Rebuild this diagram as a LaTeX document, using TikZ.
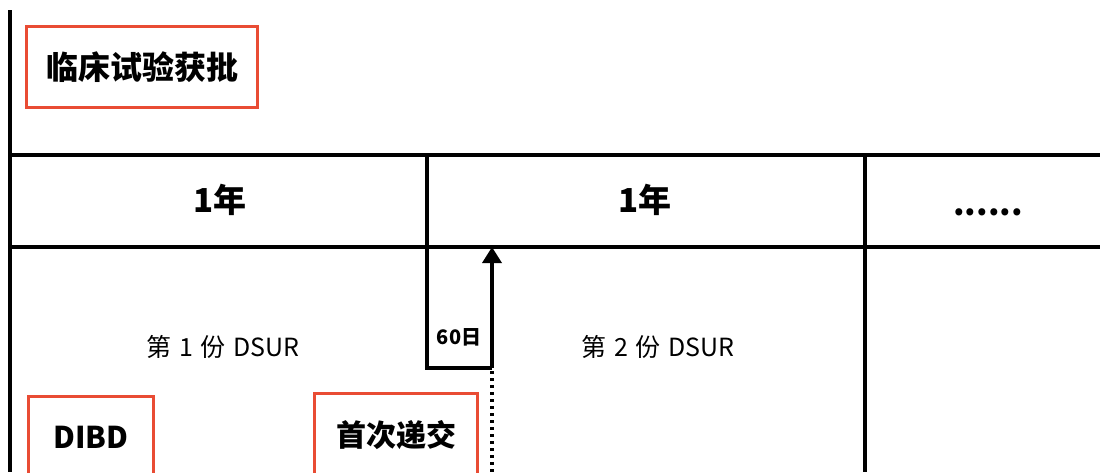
\documentclass[tikz,border=0pt]{standalone}
\usepackage{fontspec}
\setmainfont{Noto Sans CJK SC}
\usetikzlibrary{arrows.meta}
\definecolor{boxred}{RGB}{233,76,52}

\begin{document}
\begin{tikzpicture}[x=1pt,y=-1pt,line width=3.5pt,
    redbox/.style={draw=boxred, line width=3pt, inner sep=0pt, font=\fontsize{30}{36}\selectfont\bfseries},
    headtxt/.style={font=\fontsize{33}{38}\selectfont\bfseries},
    dsurtxt/.style={font=\fontsize{25}{28}\selectfont}]
\useasboundingbox (0,0) rectangle (1100,472);
\clip (0,0) rectangle (1100,472);
% table lines
\draw (10,10) -- (10,472);
\draw (10,155) -- (1100,155);
\draw (10,247) -- (1100,247);
\draw (865,155) -- (865,472);
\coordinate (turn) at (492,368);
\coordinate (due) at (492,247);
\draw (427,155) -- (427,368) -- (turn);
\draw[-{Triangle[width=19pt,length=16pt]}] (turn) -- (due);
\draw[line width=3.5pt, dash pattern=on 3pt off 4pt] (492,371) -- (492,472);
% header
\node[headtxt] (year1) at (220,200) {1年};
\node[headtxt] (year2) at (645,200) {1年};
\node[headtxt, anchor=base] (more) at (988,215) {......};
% texts
\node[dsurtxt] (dsur1) at (223,347) {第\hspace{0.3em}1\hspace{0.3em}份\hspace{0.3em}DSUR};
\node[dsurtxt] (dsur2) at (658,347) {第\hspace{0.3em}2\hspace{0.3em}份\hspace{0.3em}DSUR};
\node[font=\fontsize{20}{22}\selectfont\bfseries] (days) at (459,337) {60日};
% red boxes
\node[redbox, font=\fontsize{32}{36}\selectfont\bfseries, minimum width=231pt, minimum height=81pt] (approval) at (142,67) {临床试验获批};
\node[redbox, minimum width=125pt, minimum height=81pt] (dibd) at (91,437) {DIBD};
\node[redbox, minimum width=163pt, minimum height=83pt] (first) at (396,435) {首次递交};
\end{tikzpicture}
\end{document}
